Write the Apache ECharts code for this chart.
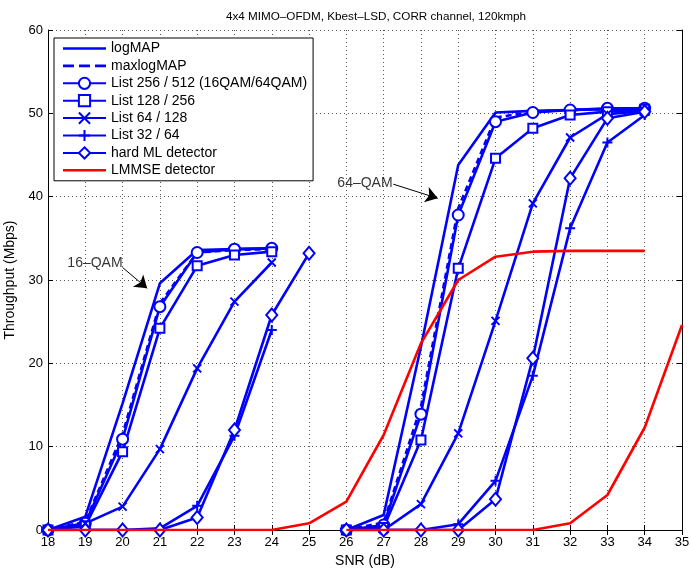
<!DOCTYPE html>
<html>
<head>
<meta charset="utf-8">
<script src="https://cdn.jsdelivr.net/npm/echarts@6/dist/echarts.min.js"></script>
<style>
  html, body { margin: 0; padding: 0; background: #fff; }
  #chart { width: 691px; height: 569px; }
</style>
</head>
<body>
<div id="chart"></div>
<script>
// SNR points (dB)
var snr16 = [18, 19, 20, 21, 22, 23, 24];
var snr16ml = [18, 19, 20, 21, 22, 23, 24, 25];
var snr64 = [26, 27, 28, 29, 30, 31, 32, 33, 34];
var snrLmmse16 = [18, 19, 20, 21, 22, 23, 24, 25, 26, 27, 28, 29, 30, 31, 32, 33, 34];
var snrLmmse64 = [26, 27, 28, 29, 30, 31, 32, 33, 34, 35];

// throughput (Mbps), 16-QAM part
var logMAP16    = [0, 1.6, 15.2, 29.6, 33.6, 33.7, 33.8];
var maxlogMAP16 = [0, 1.0, 11.5, 27.2, 33.3, 33.6, 33.7];
var list512_16  = [0, 0.8, 10.9, 26.8, 33.3, 33.7, 33.8];
var list256_16  = [0, 0.5, 9.4, 24.2, 31.7, 33.0, 33.4];
var list128_16  = [0, 0.8, 2.8, 9.7, 19.4, 27.4, 32.1];
var list64_16   = [0, 0, 0, 0.2, 2.9, 11.3, 24.0];
var hardML16    = [0, 0, 0, 0, 1.5, 12.0, 25.8, 33.2];
var lmmse16     = [0, 0, 0, 0, 0, 0, 0, 0.8, 3.4, 11.4, 22.4, 30.0, 32.8, 33.4, 33.5, 33.5, 33.5];

// throughput (Mbps), 64-QAM part
var logMAP64    = [0, 1.8, 22.0, 43.8, 50.1, 50.3, 50.4, 50.5, 50.5];
var maxlogMAP64 = [0, 0.9, 14.8, 38.6, 49.5, 50.2, 50.4, 50.5, 50.5];
var list512_64  = [0, 0.6, 13.9, 37.8, 49.0, 50.1, 50.4, 50.6, 50.6];
var list256_64  = [0, 0.3, 10.8, 31.4, 44.6, 48.2, 49.8, 50.2, 50.5];
var list128_64  = [0, 0, 3.1, 11.6, 25.1, 39.2, 47.1, 49.9, 50.3];
var list64_64   = [0, 0, 0, 0.7, 5.9, 18.5, 36.2, 46.5, 49.8];
var hardML64    = [0, 0, 0, 0, 3.7, 20.6, 42.2, 49.4, 50.2];
var lmmse64     = [0, 0, 0, 0, 0, 0, 0.8, 4.2, 12.3, 24.6];

// annotation anchors [snr, throughput]
var label16 = [20.0, 32.0];
var label64 = [27.24, 41.6];
var arrow16 = [[20.0, 31.5], [20.66, 29.0]];
var arrow64 = [[27.26, 41.5], [28.45, 39.8]];

var FONT = 'Liberation Sans, Arial, Helvetica, sans-serif';
var BLUE = '#0000ff';
var RED = '#ff0000';

var solidIcon = 'path://M0,0L43,0L43,2.6L0,2.6Z';
var dashIcon = 'path://M0,0L11,0L11,2.6L0,2.6ZM16,0L27,0L27,2.6L16,2.6ZM32,0L43,0L43,2.6L32,2.6Z';
var noBorder = { borderWidth: 0 };

var legendData = [
  { name: 'logMAP', icon: solidIcon, itemStyle: noBorder },
  { name: 'maxlogMAP', icon: dashIcon, itemStyle: noBorder },
  { name: 'List 256 / 512 (16QAM/64QAM)' },
  { name: 'List 128 / 256' },
  { name: 'List 64 / 128' },
  { name: 'List 32 / 64' },
  { name: 'hard ML detector' },
  { name: 'LMMSE detector', icon: solidIcon, itemStyle: noBorder }
];

function pairs(xs, ys) {
  return xs.map(function (x, i) { return [x, ys[i]]; });
}

function curve(name, xs, ys, opts) {
  var c = opts.color || BLUE;
  return {
    name: name,
    type: 'line',
    data: pairs(xs, ys),
    xAxisIndex: 0,
    yAxisIndex: 0,
    symbol: opts.symbol || 'none',
    symbolSize: opts.size || 10,
    showSymbol: !!opts.symbol,
    lineStyle: { color: c, width: 2.6, type: opts.dash ? [6, 4] : 'solid' },
    itemStyle: { color: c, borderColor: c, borderWidth: 2 },
    emphasis: { disabled: true },
    z: opts.z || 2
  };
}

var xMark = 'path://M0,0L10,10M10,0L0,10';
var plusMark = 'path://M5,0L5,10M0,5L10,5';

var series = [
  curve('logMAP', snr16, logMAP16, {}),
  curve('logMAP', snr64, logMAP64, {}),
  curve('maxlogMAP', snr16, maxlogMAP16, { dash: true }),
  curve('maxlogMAP', snr64, maxlogMAP64, { dash: true }),
  curve('List 256 / 512 (16QAM/64QAM)', snr16, list512_16, { symbol: 'emptyCircle', size: 11 }),
  curve('List 256 / 512 (16QAM/64QAM)', snr64, list512_64, { symbol: 'emptyCircle', size: 11 }),
  curve('List 128 / 256', snr16, list256_16, { symbol: 'emptyRect', size: 9 }),
  curve('List 128 / 256', snr64, list256_64, { symbol: 'emptyRect', size: 9 }),
  curve('List 64 / 128', snr16, list128_16, { symbol: xMark, size: 8 }),
  curve('List 64 / 128', snr64, list128_64, { symbol: xMark, size: 8 }),
  curve('List 32 / 64', snr16, list64_16, { symbol: plusMark, size: 10 }),
  curve('List 32 / 64', snr64, list64_64, { symbol: plusMark, size: 10 }),
  curve('hard ML detector', snr16ml, hardML16, { symbol: 'emptyDiamond', size: [11, 13] }),
  curve('hard ML detector', snr64, hardML64, { symbol: 'emptyDiamond', size: [11, 13] }),
  curve('LMMSE detector', snrLmmse16, lmmse16, { color: RED, z: 3 }),
  curve('LMMSE detector', snrLmmse64, lmmse64, { color: RED, z: 3 }),
  {
    name: 'annotations',
    type: 'scatter',
    data: [
      { value: label16, label: { formatter: '16\u2013QAM' } },
      { value: label64, label: { formatter: '64\u2013QAM' } }
    ],
    symbolSize: 0,
    silent: true,
    label: { show: true, position: 'left', distance: 0, color: '#000', fontSize: 14, fontFamily: FONT },
    markLine: {
      silent: true,
      symbol: ['none', 'arrow'],
      symbolSize: 12,
      label: { show: false },
      lineStyle: { color: '#000', width: 1, type: 'solid' },
      itemStyle: { color: '#000' },
      emphasis: { disabled: true },
      data: [
        [{ coord: arrow16[0] }, { coord: arrow16[1] }],
        [{ coord: arrow64[0] }, { coord: arrow64[1] }]
      ]
    },
    z: 5
  }
];

var chart = echarts.init(document.getElementById('chart'), null, { renderer: 'canvas' });

var axisLineStyle = { show: true, lineStyle: { color: '#000', width: 1 } };
var gridDots = { show: true, lineStyle: { color: '#555', width: 1, type: [1, 3] } };
var ticksIn = { show: true, inside: true, length: 5, lineStyle: { color: '#000' } };

chart.setOption({
  animation: false,
  backgroundColor: '#fff',
  title: {
    text: '4x4 MIMO\u2013OFDM, Kbest\u2013LSD, CORR channel, 120kmph',
    left: 371,
    textAlign: 'center',
    top: 6,
    textStyle: { fontSize: 11.7, fontWeight: 'normal', color: '#000', fontFamily: FONT }
  },
  grid: { left: 48, right: 9, top: 30, bottom: 39, outerBoundsMode: 'none', containLabel: false },
  legend: {
    data: legendData,
    orient: 'vertical',
    left: 54,
    top: 38,
    padding: [3, 6, 3, 8],
    itemWidth: 43,
    itemHeight: 14,
    itemGap: 2.4,
    backgroundColor: '#fff',
    borderColor: '#000',
    borderWidth: 1,
    borderRadius: 0,
    selectedMode: false,
    textStyle: { fontSize: 14, lineHeight: 15, color: '#000', fontFamily: FONT }
  },
  xAxis: [
    {
      type: 'value', min: 18, max: 35, interval: 1,
      name: 'SNR (dB)', nameLocation: 'middle', nameGap: 22,
      nameTextStyle: { fontSize: 14, color: '#000', fontFamily: FONT },
      axisLine: axisLineStyle,
      axisTick: ticksIn,
      axisLabel: { fontSize: 13, color: '#000', margin: 6, fontFamily: FONT },
      splitLine: gridDots
    },
    {
      type: 'value', min: 18, max: 35, interval: 1, position: 'top',
      axisLine: axisLineStyle,
      axisTick: ticksIn,
      axisLabel: { show: false },
      splitLine: { show: false }
    }
  ],
  yAxis: [
    {
      type: 'value', min: 0, max: 60, interval: 10,
      name: 'Throughput (Mbps)', nameLocation: 'middle', nameGap: 28,
      nameTextStyle: { fontSize: 14, color: '#000', fontFamily: FONT },
      axisLine: axisLineStyle,
      axisTick: ticksIn,
      axisLabel: { fontSize: 13, color: '#000', margin: 5, fontFamily: FONT },
      splitLine: gridDots
    },
    {
      type: 'value', min: 0, max: 60, interval: 10, position: 'right',
      axisLine: axisLineStyle,
      axisTick: ticksIn,
      axisLabel: { show: false },
      splitLine: { show: false }
    }
  ],
  series: series
});
</script>
</body>
</html>
